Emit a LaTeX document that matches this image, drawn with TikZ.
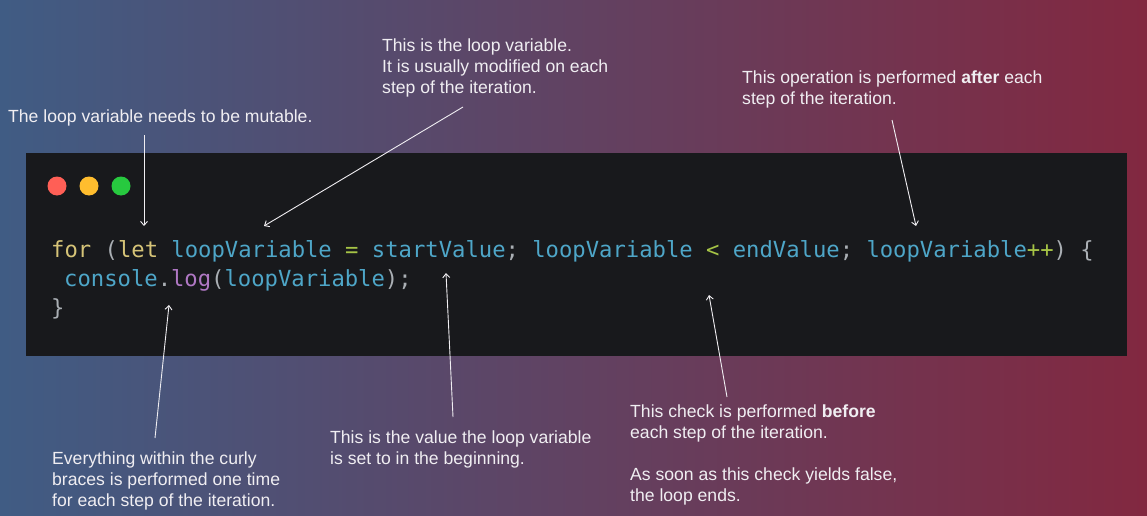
\documentclass[tikz,border=0pt]{standalone}
\usepackage{fontspec}
\setmainfont{Liberation Sans}
\newfontfamily\codefont{DejaVu Sans Mono}
\usetikzlibrary{arrows.meta}
\definecolor{bgL}{RGB}{64,92,132}
\definecolor{bgM}{RGB}{94,72,106}
\definecolor{bgR}{RGB}{130,40,64}
\definecolor{codebg}{RGB}{24,25,28}
\definecolor{notec}{RGB}{240,238,242}
\definecolor{kw}{RGB}{214,196,120}
\definecolor{idc}{RGB}{78,166,200}
\definecolor{opc}{RGB}{166,196,70}
\definecolor{pnc}{RGB}{170,175,180}
\definecolor{fnc}{RGB}{176,120,196}
\definecolor{dotR}{RGB}{255,95,86}
\definecolor{dotY}{RGB}{255,189,46}
\definecolor{dotG}{RGB}{39,201,63}
\tikzset{
  note/.style={text=notec, font=\fontsize{17.6}{21}\selectfont, align=left, inner sep=0pt, anchor=north west},
  code/.style={font=\codefont\fontsize{22.2}{29}\selectfont, inner sep=0pt, anchor=base west},
  arr/.style={draw=notec, line width=0.9pt, -{Straight Barb[length=4pt,width=7pt]}},
  wdot/.style={circle, inner sep=0pt, minimum size=19pt}
}
\begin{document}
\begin{tikzpicture}[x=1pt,y=-1pt]
\useasboundingbox (0,0) rectangle (1147,516);
\shade[left color=bgL, middle color=bgM, right color=bgR] (0,0) rectangle (1147,516);
\fill[codebg] (26,153) rectangle (1127,356);
\node[wdot, fill=dotR] (d1) at (57,186) {};
\node[wdot, fill=dotY] (d2) at (89,186) {};
\node[wdot, fill=dotG] (d3) at (121,186) {};
\node[code] (l1) at (51,257) {\textcolor{kw}{for} \textcolor{pnc}{(}\textcolor{kw}{let} \textcolor{idc}{loopVariable} \textcolor{opc}{=} \textcolor{idc}{startValue}\textcolor{pnc}{;} \textcolor{idc}{loopVariable} \textcolor{opc}{<} \textcolor{idc}{endValue}\textcolor{pnc}{;} \textcolor{idc}{loopVariable}\textcolor{opc}{++}\textcolor{pnc}{)} \textcolor{pnc}{\{}};
\node[code] (l2) at (64,286) {\textcolor{idc}{console}\textcolor{pnc}{.}\textcolor{fnc}{log}\textcolor{pnc}{(}\textcolor{idc}{loopVariable}\textcolor{pnc}{);}};
\node[code] (l3) at (51,315) {\textcolor{pnc}{\}}};
\node[note] (n1) at (8,109.5) {The loop variable needs to be mutable.};
\node[note] (n2) at (382,39) {This is the loop variable.\\It is usually modified on each\\step of the iteration.};
\node[note] (n3) at (742,70.5) {This operation is performed \textbf{after} each\\step of the iteration.};
\node[note] (n4) at (52,451.5) {Everything within the curly\\braces is performed one time\\for each step of the iteration.};
\node[note] (n5) at (330,430.5) {This is the value the loop variable\\is set to in the beginning.};
\node[note] (n6) at (630,404.5) {This check is performed \textbf{before}\\each step of the iteration.\\[21pt]As soon as this check yields false,\\the loop ends.};
\coordinate (s1) at (144,135); \coordinate (t1) at (144,226);
\coordinate (s2) at (463,107); \coordinate (t2) at (264,226);
\coordinate (s3) at (892,120); \coordinate (t3) at (916,226);
\coordinate (s4) at (155,438); \coordinate (t4) at (169,305);
\coordinate (s5) at (453,417); \coordinate (t5) at (446,273);
\coordinate (s6) at (727,397); \coordinate (t6) at (709,295);
\draw[arr] (s1) -- (t1);
\draw[arr] (s2) -- (t2);
\draw[arr] (s3) -- (t3);
\draw[arr] (s4) -- (t4);
\draw[arr] (s5) -- (t5);
\draw[arr] (s6) -- (t6);
\end{tikzpicture}
\end{document}
